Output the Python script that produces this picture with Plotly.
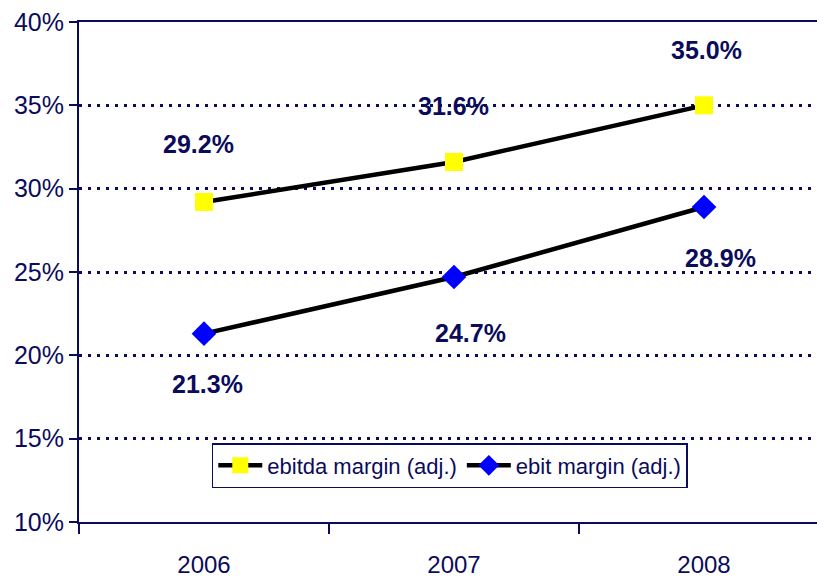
import plotly.graph_objects as go

years = ["2006", "2007", "2008"]
ebitda = [29.2, 31.6, 35.0]
ebit = [21.3, 24.7, 28.9]
ebitda_labels = ["29.2%", "31.6%", "35.0%"]
ebit_labels = ["21.3%", "24.7%", "28.9%"]
y_ticks = [10, 15, 20, 25, 30, 35, 40]
y_ticklabels = ["10%", "15%", "20%", "25%", "30%", "35%", "40%"]

NAVY = "#0b0b5c"
FONT = "Liberation Sans Narrow, Arial Narrow, Liberation Sans, Arial, sans-serif"

fig = go.Figure()
fig.add_trace(go.Scatter(
    x=years, y=ebitda, mode="lines+markers", name="ebitda margin (adj.)",
    line=dict(color="black", width=4.5),
    marker=dict(symbol="square", size=18, color="#ffff00", line=dict(width=0)),
))
fig.add_trace(go.Scatter(
    x=years, y=ebit, mode="lines+markers", name="ebit margin (adj.)",
    line=dict(color="black", width=4.5),
    marker=dict(symbol="diamond", size=19, color="#0000ff", line=dict(width=0)),
))

ebitda_shift = [(-6, 58), (-1, 56), (2, 55)]
ebit_shift = [(3, -50), (16, -56), (16, -51)]
for i, (y, t, (dx, dy)) in enumerate(zip(ebitda, ebitda_labels, ebitda_shift)):
    fig.add_annotation(x=i, y=y, xref="x", yref="y", text=f"<b>{t}</b>", showarrow=False,
                       xshift=dx, yshift=dy, font=dict(family=FONT, size=25, color=NAVY))
for i, (y, t, (dx, dy)) in enumerate(zip(ebit, ebit_labels, ebit_shift)):
    fig.add_annotation(x=i, y=y, xref="x", yref="y", text=f"<b>{t}</b>", showarrow=False,
                       xshift=dx, yshift=dy, font=dict(family=FONT, size=25, color=NAVY))

fig.update_layout(
    width=817, height=574,
    margin=dict(l=71, r=0, t=14, b=60),
    paper_bgcolor="white", plot_bgcolor="white",
    font=dict(family=FONT, color=NAVY),
    showlegend=True,
    legend=dict(
        orientation="h", x=0.178, y=0.158, xanchor="left", yanchor="top",
        bordercolor=NAVY, borderwidth=1.5, bgcolor="white",
        font=dict(family=FONT, size=22, color=NAVY),
        itemwidth=44, tracegroupgap=0,
    ),
    xaxis=dict(
        type="category", range=[-0.5, 2.484],
        showline=True, linecolor=NAVY, linewidth=2, mirror=True,
        ticks="outside", tickson="boundaries", ticklen=10, tickcolor=NAVY, tickwidth=1.5,
        showgrid=False, tickfont=dict(family=FONT, size=24, color=NAVY),
        ticklabelstandoff=20,
    ),
    yaxis=dict(
        range=[10, 40], tickvals=y_ticks, ticktext=y_ticklabels,
        showline=True, linecolor=NAVY, linewidth=2,
        ticks="outside", ticklen=8, tickcolor=NAVY, tickwidth=1.5,
        showgrid=True, gridcolor=NAVY, gridwidth=2.5, griddash="3px,6px",
        zeroline=False, tickfont=dict(family=FONT, size=25, color=NAVY),
        ticklabeloverflow="allow",
    ),
)

fig.write_html("out.html")
